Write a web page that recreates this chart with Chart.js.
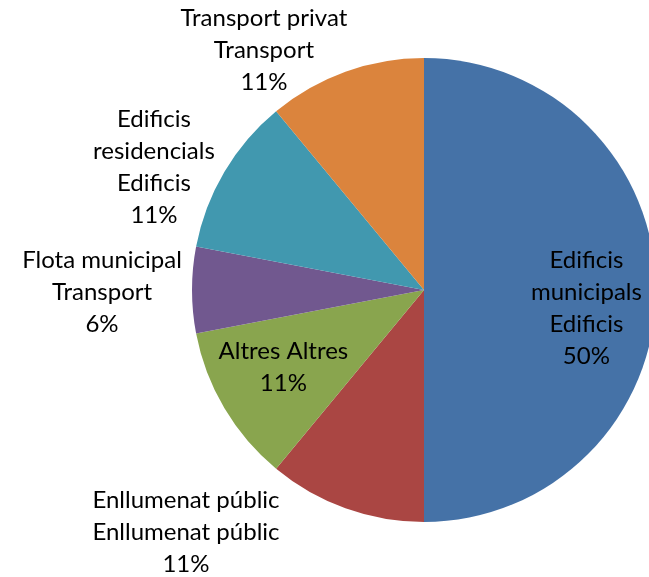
<!DOCTYPE html>
<html>
<head>
    <title>Emissions per sector</title>
    <style>
        html, body { margin: 0; padding: 0; overflow: hidden; background: #fff; }
        #wrap { width: 680px; height: 577px; }
    </style>
</head>
<body>
    <div id="wrap"><canvas id="pieChart" width="680" height="577"></canvas></div>
    <script src="https://cdn.jsdelivr.net/npm/chart.js"></script>
    <script>
        // sectors, clockwise from 12 o'clock
        const categories = ['Edificis municipals', 'Enllumenat públic', 'Altres', 'Flota municipal', 'Edificis residencials', 'Transport privat'];
        const groups = ['Edificis', 'Enllumenat públic', 'Altres', 'Transport', 'Edificis', 'Transport'];
        const values = [50, 11, 11, 6, 11, 11];
        const colors = ['#4572A7', '#AA4643', '#89A54E', '#71588F', '#4198AF', '#DB843D'];

        // label text lines as they are wrapped in the original
        const labelLines = [
            ['Edificis', 'municipals', 'Edificis'],
            ['Enllumenat públic', 'Enllumenat públic'],
            ['Altres Altres'],
            ['Flota municipal', 'Transport'],
            ['Edificis', 'residencials', 'Edificis'],
            ['Transport privat', 'Transport']
        ];
        // label centre, relative to pie centre, in units of the radius
        const labelPos = [
            [0.70, 0.078], [-1.026, 1.043], [-0.606, 0.332],
            [-1.388, 0.009], [-1.164, -0.528], [-0.690, -1.034]
        ];

        const total = values.reduce((s, v) => s + v, 0);

        const labelPlugin = {
            id: 'pieLabels',
            afterDatasetsDraw(chart) {
                const ctx = chart.ctx;
                const arcs = chart.getDatasetMeta(0).data;
                ctx.save();
                ctx.font = '24px Lato';
                ctx.fillStyle = '#000';
                ctx.textAlign = 'center';
                ctx.textBaseline = 'middle';
                const lh = 32;
                arcs.forEach((arc, i) => {
                    const lines = labelLines[i].concat([Math.round(values[i] / total * 100) + '%']);
                    const cx = arc.x + labelPos[i][0] * arc.outerRadius;
                    const cy = arc.y + labelPos[i][1] * arc.outerRadius;
                    const top = cy - (lines.length - 1) * lh / 2;
                    lines.forEach((t, j) => ctx.fillText(t, cx, top + j * lh));
                });
                ctx.restore();
            }
        };

        new Chart(document.getElementById('pieChart'), {
            type: 'pie',
            data: {
                labels: categories,
                datasets: [{
                    data: values,
                    backgroundColor: colors,
                    borderWidth: 0
                }]
            },
            options: {
                responsive: false,
                animation: false,
                layout: { padding: { left: 192, right: 24, top: 58, bottom: 55 } },
                plugins: {
                    legend: { display: false },
                    tooltip: { enabled: false }
                }
            },
            plugins: [labelPlugin]
        });
    </script>
</body>
</html>
